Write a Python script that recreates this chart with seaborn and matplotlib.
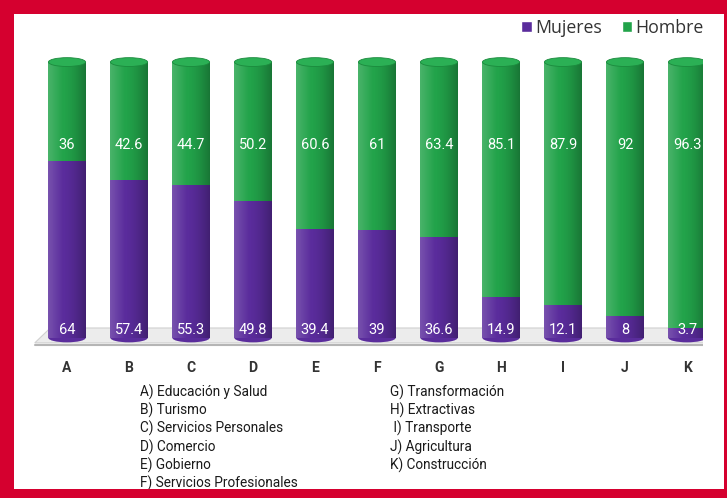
import numpy as np
import pandas as pd
import matplotlib.pyplot as plt
import seaborn as sns
from matplotlib.patches import Rectangle, Polygon, Ellipse

# data
sectores = ["A", "B", "C", "D", "E", "F", "G", "H", "I", "J", "K"]
mujeres = [64, 57.4, 55.3, 49.8, 39.4, 39, 36.6, 14.9, 12.1, 8, 3.7]
hombres = [36, 42.6, 44.7, 50.2, 60.6, 61, 63.4, 85.1, 87.9, 92, 96.3]
nombres_1 = ["A) Educación y Salud", "B) Turismo", "C) Servicios Personales",
             "D) Comercio", "E) Gobierno", "F) Servicios Profesionales"]
nombres_2 = ["G) Transformación", "H) Extractivas", " I) Transporte",
             "J) Agricultura", "K) Construcción"]

PURPLE = "#5a2c9c"
GREEN = "#22a34a"
RED = "#d5002f"

df = pd.DataFrame({"sector": sectores, "mujeres": mujeres, "hombres": hombres})
df["total"] = df["mujeres"] + df["hombres"]

sns.set_style("white")
plt.rcParams["font.family"] = ["Roboto", "DejaVu Sans"]

W, H = 727, 498
fig = plt.figure(figsize=(W / 100, H / 100), dpi=100)
fig.patch.set_facecolor(RED)


def fx(px):
    return px / W


def fy(py):
    return 1 - py / H


# white inner panel (behind the axes)
fig.patches.append(Rectangle((fx(14), fy(489)), fx(724 - 14), (489 - 14) / H,
                             transform=fig.transFigure, facecolor="white",
                             edgecolor="none", zorder=-5))

ax = fig.add_axes([fx(14), fy(360), fx(705 - 14), (360 - 40) / H])
ax.set_facecolor("none")

# floor
ax.add_patch(Polygon([(-0.27, 3.6), (10.4, 3.6), (10.3, -1.8), (-0.52, -1.8)],
                     closed=True, facecolor="#ececec", edgecolor="#d0d0d0",
                     lw=0.8, zorder=0))
ax.plot([-0.52, 10.3], [-2.4, -2.4], color="#b5b5b5", lw=1.5, zorder=0)

sns.barplot(data=df, x="sector", y="total", color=GREEN, saturation=1,
            width=0.6, linewidth=0, ax=ax, zorder=2)
sns.barplot(data=df, x="sector", y="mujeres", color=PURPLE, saturation=1,
            width=0.6, linewidth=0, ax=ax, zorder=3)

# cylinder shading over each bar
shade = np.zeros((1, 64, 4))
u = np.linspace(0, 1, 64)
shade[0, :, :3] = np.where(u[:, None] < 0.4, 1.0, 0.0)
shade[0, :, 3] = np.where(u < 0.4, 0.18 * (1 - u / 0.4), 0.28 * ((u - 0.4) / 0.6) ** 1.5)
for bar in list(ax.patches):
    if not isinstance(bar, Rectangle):
        continue
    x0, y0 = bar.get_x(), bar.get_y()
    im = ax.imshow(shade, extent=[x0, x0 + bar.get_width(), y0, y0 + bar.get_height()],
                   aspect="auto", zorder=bar.get_zorder() + 0.1, interpolation="bilinear")
    im.set_clip_path(bar)

# cylinder caps
for i, t in enumerate(df["total"]):
    ax.add_patch(Ellipse((i, t), 0.6, 3.2, facecolor="#2bb055",
                         edgecolor="#1b8a3d", lw=0.6, zorder=4))
    ax.add_patch(Ellipse((i, 0), 0.6, 3.2, facecolor=PURPLE,
                         edgecolor="none", zorder=1))

for i, (m, h) in enumerate(zip(mujeres, hombres)):
    ax.text(i, 70, f"{h:g}", ha="center", va="center", color="white",
            fontsize=10.5, zorder=5)
    ax.text(i, 2.9, f"{m:g}", ha="center", va="center", color="white",
            fontsize=10.5, zorder=5)

ax.set_xlim(-0.855, 10.29)
ax.set_ylim(-8, 108)
ax.set_xlabel("")
ax.set_ylabel("")
ax.set_yticks([])
ax.tick_params(axis="x", length=0, pad=1, labelsize=10, labelcolor="#333333")
for lab in ax.get_xticklabels():
    lab.set_fontweight("bold")
sns.despine(ax=ax, left=True, bottom=True)

# sector names
for k, s in enumerate(nombres_1):
    fig.text(fx(140), fy(392 + 18.3 * k), s, ha="left", va="center",
             fontsize=9.8, color="#1a1a1a")
for k, s in enumerate(nombres_2):
    fig.text(fx(390), fy(392 + 18.3 * k), s, ha="left", va="center",
             fontsize=9.8, color="#1a1a1a")

# legend
handles = [Rectangle((0, 0), 1, 1, facecolor=PURPLE), Rectangle((0, 0), 1, 1, facecolor=GREEN)]
fig.legend(handles, ["Mujeres", "Hombre"], ncol=2, frameon=False,
           loc="upper left", bbox_to_anchor=(fx(505), fy(3)),
           handlelength=0.6, handleheight=0.6, handletextpad=0.2,
           columnspacing=1.1, prop={"family": "Open Sans", "size": 12.8},
           labelcolor="#333333")

# right white strip and red frame drawn on top
fig.patches.append(Rectangle((fx(703), fy(489)), fx(21), (489 - 14) / H,
                             transform=fig.transFigure, facecolor="white",
                             edgecolor="none", zorder=20))
for x0, y0, w, h in [(3, 3, 724, 11), (3, 489, 724, 9), (3, 3, 11, 495), (724, 3, 3, 495)]:
    fig.patches.append(Rectangle((fx(x0), fy(y0 + h)), fx(w), h / H,
                                 transform=fig.transFigure, facecolor=RED,
                                 edgecolor="none", zorder=21))

fig.savefig("out.png", dpi=100, facecolor=fig.get_facecolor())
